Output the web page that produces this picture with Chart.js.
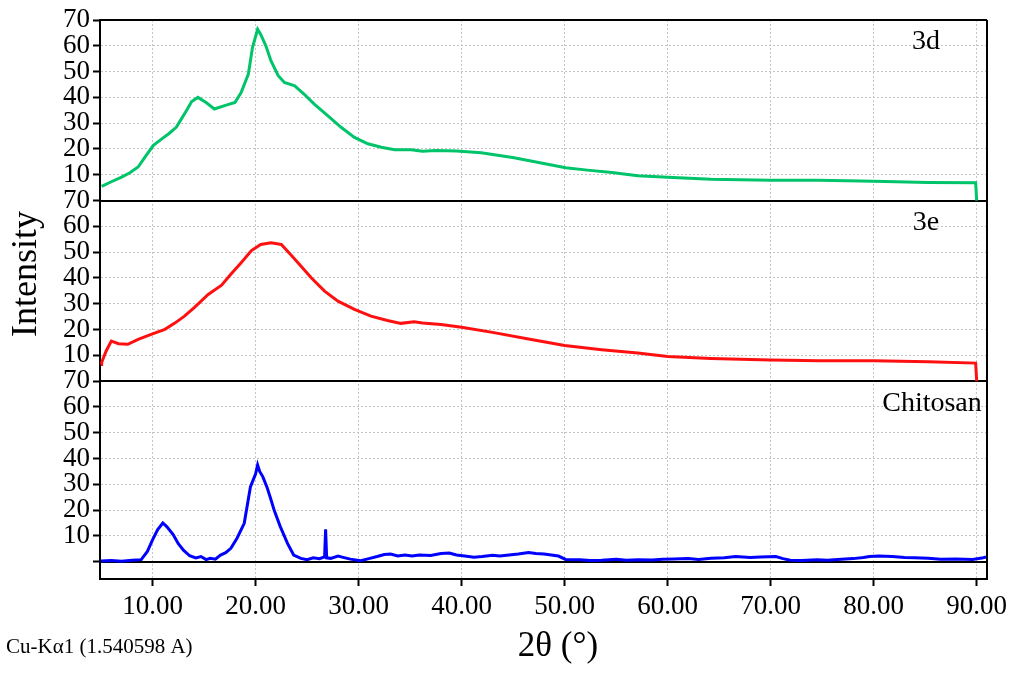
<!DOCTYPE html>
<html>
<head>
<meta charset="utf-8">
<title>XRD patterns</title>
<script src="https://cdn.jsdelivr.net/npm/chart.js@4.4.1/dist/chart.umd.min.js"></script>
<style>
    body { margin: 0; background: #fff; }
    #wrap { width: 1024px; height: 673px; }
</style>
</head>
<body>
<div id="wrap"><canvas id="xrdChart" width="1024" height="673"></canvas></div>
<script>
// Data (2θ in degrees, intensity per panel 0..70)
const panelNames = ['Chitosan', '3e', '3d'];   // bottom to top
const panelColors = ['#0000ff', '#ff1010', '#00c46a'];

const xTicks = [10, 20, 30, 40, 50, 60, 70, 80, 90];
const yTicks = [0, 10, 20, 30, 40, 50, 60, 70, 80, 90, 100, 110, 120, 130, 140, 150, 160, 170, 180, 190, 200, 210];

const d3X = [5.06, 6.0, 7.0, 7.8, 8.6, 9.3, 10.06, 10.9, 11.6, 12.3, 13.1, 13.8, 14.4, 15.2, 16.0, 17.0, 18.0, 18.6, 19.3, 19.7,
    20.2, 20.5, 21.0, 21.5, 22.2, 22.8, 23.8, 24.7, 25.7, 27.0, 28.3, 29.6, 30.9, 32.2, 33.5, 35.1, 36.2, 37.5, 39.5, 41.9,
    43.5, 45.1, 47.6, 50.1, 52.2, 54.6, 57.1, 60.0, 64.2, 67.0, 70.0, 74.7, 80.0, 85.3, 89.9, 90.0];
const d3Y = [5.5, 7.3, 9.1, 10.8, 13.0, 17.0, 21.3, 23.9, 26.0, 28.4, 33.6, 38.4, 40.0, 38.0, 35.5, 36.8, 38.0, 41.9, 49.0, 59.3,
    66.4, 64.4, 60.0, 54.1, 48.4, 45.8, 44.5, 41.3, 37.4, 32.9, 28.4, 24.5, 22.0, 20.7, 19.7, 19.7, 19.1, 19.4, 19.2, 18.5,
    17.6, 16.6, 14.7, 12.7, 11.8, 10.9, 9.6, 9.0, 8.3, 8.1, 7.9, 7.9, 7.5, 7.0, 6.9, 0];

const e3X = [5.0, 5.06, 5.5, 6.0, 6.7, 7.6, 8.6, 10.06, 11.2, 12.2, 13.1, 14.1, 15.4, 16.7, 17.6, 18.6, 19.6, 20.5, 21.5, 22.5,
    23.4, 24.4, 25.4, 26.7, 28.0, 29.6, 31.2, 32.8, 34.1, 35.4, 36.2, 38.0, 40.0, 43.0, 46.5, 50.0, 53.6, 57.1, 60.0, 64.2,
    70.0, 74.7, 80.0, 85.3, 89.9, 90.0];
const e3Y = [6.5, 7.2, 11.7, 15.5, 14.5, 14.3, 16.2, 18.4, 20.1, 22.6, 25.2, 28.7, 33.6, 37.2, 41.4, 45.9, 50.6, 53.0, 53.6, 53.0,
    49.1, 44.6, 40.1, 34.9, 31.0, 27.8, 25.2, 23.5, 22.4, 23.0, 22.5, 22.0, 20.9, 18.9, 16.3, 13.8, 12.2, 10.9, 9.6, 8.8,
    8.2, 7.9, 7.9, 7.5, 7.0, 0];

const chitosanX = [5.0, 6.0, 7.0, 8.0, 8.9, 9.5, 10.0, 10.5, 11.0, 11.4, 12.0, 12.5, 13.0, 13.6, 14.2, 14.7, 15.2, 15.6, 16.1, 16.6,
    17.1, 17.6, 18.2, 18.9, 19.5, 19.8, 20.0, 20.2, 20.4, 20.7, 21.1, 21.5, 21.8, 22.4, 23.1, 23.7, 24.4, 25.0, 25.6, 26.2,
    26.7, 26.8, 26.9, 27.3, 28.0, 28.5, 29.2, 30.2, 31.0, 31.8, 32.5, 33.1, 33.8, 34.5, 35.2, 35.9, 37.0, 38.0, 38.8, 39.5,
    40.3, 41.2, 42.0, 43.0, 43.7, 44.6, 45.5, 46.5, 47.2, 48.0, 49.4, 50.1, 51.5, 52.5, 53.6, 55.0, 56.0, 57.1, 58.5, 59.5,
    60.6, 62.0, 63.0, 64.2, 65.5, 66.6, 68.0, 69.0, 70.5, 71.2, 71.9, 73.0, 74.5, 75.5, 76.5, 78.0, 79.0, 79.6, 80.5, 81.8,
    83.0, 84.0, 85.3, 86.5, 88.0, 89.6, 90.5, 90.9];
const chitosanY = [0.3, 0.5, 0.2, 0.6, 0.8, 4.0, 8.5, 12.5, 15.0, 13.5, 10.5, 7.0, 4.5, 2.3, 1.5, 2.0, 0.8, 1.3, 1.0, 2.6,
    3.5, 5.2, 9.1, 14.9, 29.0, 32.0, 34.0, 37.5, 35.0, 33.0, 29.0, 24.0, 20.0, 13.6, 7.1, 2.6, 1.3, 0.8, 1.5, 1.2,
    1.9, 12.6, 1.5, 1.3, 2.2, 1.7, 1.0, 0.4, 1.2, 2.0, 2.8, 3.0, 2.2, 2.6, 2.2, 2.6, 2.4, 3.2, 3.4, 2.6,
    2.2, 1.7, 2.0, 2.5, 2.2, 2.6, 3.0, 3.6, 3.2, 3.0, 2.2, 0.9, 0.8, 0.5, 0.6, 1.0, 0.6, 0.8, 0.7, 1.0,
    1.1, 1.2, 0.9, 1.3, 1.5, 2.0, 1.6, 1.8, 2.0, 1.2, 0.6, 0.5, 0.8, 0.6, 0.9, 1.2, 1.6, 2.0, 2.2, 2.0,
    1.6, 1.5, 1.3, 1.0, 1.1, 0.9, 1.4, 1.8];

const PANEL_SPAN = 70;   // each panel runs 0..70, stacked on one value axis
const SERIF = "'Liberation Serif', 'Times New Roman', serif";

function toPoints(xs, ys, panel) {
    return xs.map((x, i) => ({ x: x, y: ys[i] + panel * PANEL_SPAN }));
}

// frame, panel separators and the zero line of the bottom panel
const framePlugin = {
    id: 'frame',
    beforeDatasetsDraw(chart) {
        const { ctx, chartArea: a, scales: { y } } = chart;
        ctx.save();
        ctx.strokeStyle = '#000';
        ctx.lineWidth = 2;
        [0, PANEL_SPAN, 2 * PANEL_SPAN, 3 * PANEL_SPAN].forEach(v => {
            const py = Math.round(y.getPixelForValue(v));
            ctx.beginPath();
            ctx.moveTo(a.left, py);
            ctx.lineTo(a.right, py);
            ctx.stroke();
        });
        ctx.beginPath();
        ctx.moveTo(a.right, a.top);
        ctx.lineTo(a.right, a.bottom);
        ctx.stroke();
        ctx.restore();
    },
    afterDraw(chart) {
        const { ctx, chartArea: a, scales: { y } } = chart;
        ctx.save();
        ctx.fillStyle = '#000';

        // panel names
        ctx.font = '28px ' + SERIF;
        ctx.textAlign = 'center';
        ctx.textBaseline = 'middle';
        panelNames.forEach((name, i) => {
            const top = y.getPixelForValue((i + 1) * PANEL_SPAN);
            const cx = name === 'Chitosan' ? a.right - 55 : a.right - 61;
            ctx.fillText(name, cx, top + 22);
        });

        // axis titles
        ctx.font = '35px ' + SERIF;
        ctx.fillText('2\u03b8 (\u00b0)', 558, 647);
        ctx.save();
        ctx.translate(27, 274);
        ctx.rotate(-Math.PI / 2);
        ctx.font = '36px ' + SERIF;
        ctx.fillText('Intensity', 0, 0);
        ctx.restore();

        ctx.font = '21px ' + SERIF;
        ctx.textAlign = 'left';
        ctx.fillText('Cu-K\u03b11 (1.540598 A)', 6, 647);
        ctx.restore();
    }
};

function init() {
    const ctx = document.getElementById('xrdChart').getContext('2d');
    const series = [
        { label: 'Chitosan', xs: chitosanX, ys: chitosanY },
        { label: '3e', xs: e3X, ys: e3Y },
        { label: '3d', xs: d3X, ys: d3Y }
    ];

    new Chart(ctx, {
        type: 'line',
        data: {
            datasets: series.map((s, i) => ({
                label: s.label,
                data: toPoints(s.xs, s.ys, i),
                borderColor: panelColors[i],
                borderWidth: 3,
                pointRadius: 0,
                tension: 0,
                fill: false
            }))
        },
        options: {
            responsive: false,
            animation: false,
            layout: { padding: { left: 0, top: 20, right: 37, bottom: 0 } },
            plugins: {
                legend: { display: false },
                tooltip: { enabled: false }
            },
            scales: {
                x: {
                    type: 'linear',
                    min: 4.9,
                    max: 91,
                    afterBuildTicks: scale => { scale.ticks = xTicks.map(v => ({ value: v })); },
                    afterFit: scale => { scale.height = 94; },
                    ticks: {
                        callback: v => v.toFixed(2),
                        color: '#000',
                        font: { family: SERIF, size: 27 },
                        autoSkip: false,
                        maxRotation: 0,
                        padding: 5
                    },
                    grid: { color: '#c4c4c4', lineWidth: 1, tickColor: '#000', tickLength: 7, tickWidth: 2 },
                    border: { color: '#000', width: 2, dash: [2, 2] }
                },
                y: {
                    min: -6.7,
                    max: 3 * PANEL_SPAN,
                    afterBuildTicks: scale => { scale.ticks = yTicks.map(v => ({ value: v })); },
                    afterFit: scale => { scale.width = 100; },
                    ticks: {
                        callback: v => v === 0 ? '' : ((v - 10) % PANEL_SPAN) + 10,
                        color: '#000',
                        font: { family: SERIF, size: 27, lineHeight: 0.9 },
                        autoSkip: false,
                        padding: 3
                    },
                    grid: { color: '#c4c4c4', lineWidth: 1, tickColor: '#000', tickLength: 7, tickWidth: 2 },
                    border: { color: '#000', width: 2, dash: [2, 2] }
                }
            }
        },
        plugins: [framePlugin]
    });
}

document.addEventListener('DOMContentLoaded', init);
</script>
</body>
</html>
